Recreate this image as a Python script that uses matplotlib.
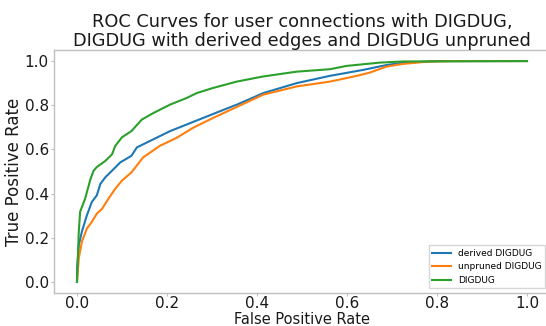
import matplotlib.pyplot as plt

# ROC точки
fpr_derived = [0.0, 0.0, 0.004, 0.011, 0.022, 0.033, 0.044, 0.052, 0.063, 0.078, 0.096,
               0.121, 0.133, 0.170, 0.207, 0.244, 0.281, 0.318, 0.358, 0.414, 0.488,
               0.562, 0.636, 0.688, 0.724, 0.80, 1.0]
tpr_derived = [0.0, 0.05, 0.167, 0.229, 0.302, 0.362, 0.392, 0.444, 0.474, 0.504, 0.541,
               0.571, 0.609, 0.646, 0.683, 0.713, 0.743, 0.773, 0.805, 0.855, 0.900,
               0.933, 0.960, 0.982, 0.992, 1.0, 1.0]

fpr_unpruned = [0.0, 0.004, 0.011, 0.022, 0.033, 0.044, 0.056, 0.070, 0.085, 0.10, 0.121,
                0.147, 0.184, 0.222, 0.258, 0.303, 0.358, 0.414, 0.488, 0.562, 0.622,
                0.651, 0.688, 0.724, 0.777, 0.836, 1.0]
tpr_unpruned = [0.0, 0.108, 0.183, 0.242, 0.272, 0.309, 0.332, 0.377, 0.422, 0.459, 0.496,
                0.564, 0.616, 0.653, 0.698, 0.743, 0.795, 0.848, 0.885, 0.907, 0.933,
                0.948, 0.975, 0.987, 0.997, 1.0, 1.0]

fpr_digdug = [0.0, 0.004, 0.007, 0.018, 0.030, 0.037, 0.044, 0.063, 0.078, 0.085, 0.10,
              0.121, 0.144, 0.170, 0.207, 0.244, 0.266, 0.302, 0.355, 0.413, 0.488,
              0.562, 0.599, 0.673, 0.724, 1.0]
tpr_digdug = [0.0, 0.229, 0.318, 0.377, 0.466, 0.504, 0.520, 0.548, 0.578, 0.616, 0.655,
              0.683, 0.735, 0.765, 0.803, 0.833, 0.855, 0.878, 0.907, 0.930, 0.952,
              0.963, 0.978, 0.993, 0.998, 1.0]

labels = ['derived DIGDUG', 'unpruned DIGDUG', 'DIGDUG']

fig = plt.figure(figsize=(5.46, 3.26), dpi=100)
ax = fig.add_axes([0.0998, 0.1012, 0.9066, 0.7454])

ax.plot(fpr_derived, tpr_derived, color='#1f77b4', lw=1.5, label=labels[0])
ax.plot(fpr_unpruned, tpr_unpruned, color='#ff7f0e', lw=1.5, label=labels[1])
ax.plot(fpr_digdug, tpr_digdug, color='#2ca02c', lw=1.5, label=labels[2])

ax.set_xlim(-0.05, 1.05)
ax.set_ylim(-0.05, 1.05)
ax.set_xticks([0.0, 0.2, 0.4, 0.6, 0.8, 1.0])
ax.set_yticks([0.0, 0.2, 0.4, 0.6, 0.8, 1.0])

for s in ax.spines.values():
    s.set_color('#bfbfbf')
    s.set_linewidth(1.0)
ax.tick_params(colors='#bfbfbf', labelcolor='#1a1a1a', labelsize=11)
ax.tick_params(axis='y', length=2.5, pad=1.5)
ax.tick_params(axis='x', length=2, pad=0.5)

ax.set_xlabel('False Positive Rate', fontsize=10.5, color='#1a1a1a', labelpad=0.5)
ax.set_ylabel('True Positive Rate', fontsize=12, color='#1a1a1a', labelpad=1)
ax.set_title('ROC Curves for user connections with DIGDUG,\n'
             'DIGDUG with derived edges and DIGDUG unpruned',
             fontsize=12.8, color='#1a1a1a', pad=2, linespacing=1.05)

leg = ax.legend(loc='lower right', fontsize=6.5, frameon=True, fancybox=False)
leg.get_frame().set_edgecolor('#cccccc')

fig.savefig('out.png', dpi=100)
